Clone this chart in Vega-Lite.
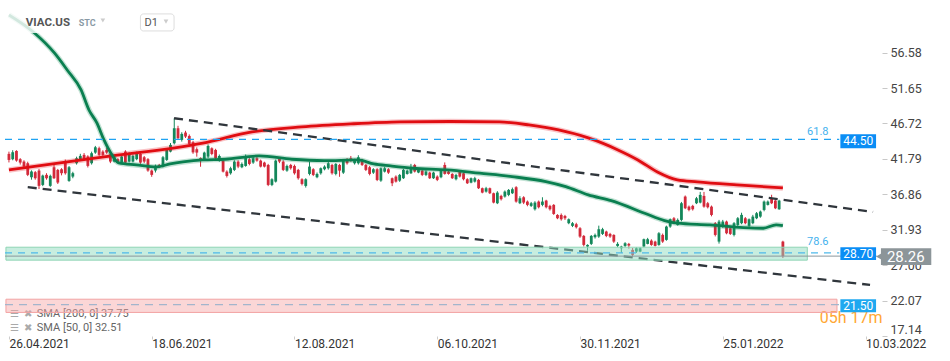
{
 "$schema": "https://vega.github.io/schema/vega-lite/v6.json",
 "width": 882,
 "height": 336,
 "autosize": {"type": "none"},
 "padding": {"left": 0, "top": 0, "right": 68, "bottom": 25},
 "background": "#ffffff",
 "config": {
  "view": {"stroke": null}, "font": "Roboto", "text": {"font": "Roboto"},
  "axisX": {"labelAlign": "left", "labelBaseline": "top", "labelFontSize": 12, "labelColor": "#333333", "labelFont": "Roboto", "tickSize": 3, "tickColor": "#cccccc", "domain": false, "grid": false, "labelPadding": -1, "labelOverlap": false, "labelFlush": false, "labelBound": false},
  "axisY": {"labelFontSize": 12.5, "labelColor": "#444444", "labelFont": "Roboto", "tickSize": 5, "tickColor": "#c8c8c8", "domain": false, "grid": false, "labelPadding": 3, "labelFlush": true, "labelOverlap": false}
 },
 "datasets": {
  "candles": [
   {"o":42.49,"h":42.8,"l":41.3,"c":41.65},{"o":41.75,"h":43.0,"l":41.6,"c":42.72},{"o":42.9,"h":43.0,"l":41.4,"c":41.56},{"o":41.75,"h":41.9,"l":41.0,"c":41.28},{"o":41.42,"h":41.6,"l":40.5,"c":40.72},
   {"o":41.19,"h":41.4,"l":39.4,"c":39.57},{"o":39.24,"h":40.2,"l":38.9,"c":40.03},{"o":39.94,"h":40.1,"l":38.9,"c":39.1},{"o":40.17,"h":40.4,"l":37.6,"c":38.04},{"o":38.17,"h":39.6,"l":38.0,"c":39.47},
   {"o":39.57,"h":39.8,"l":38.9,"c":39.1},{"o":38.04,"h":39.6,"l":37.9,"c":39.43},{"o":40.63,"h":41.0,"l":39.0,"c":39.1},{"o":40.26,"h":40.4,"l":38.3,"c":38.5},{"o":40.35,"h":40.5,"l":39.5,"c":39.8},
   {"o":41.51,"h":41.7,"l":39.6,"c":39.8},{"o":38.73,"h":40.8,"l":38.6,"c":40.63},{"o":39.33,"h":40.0,"l":39.1,"c":39.8},{"o":41.19,"h":42.1,"l":41.0,"c":41.88},{"o":41.75,"h":42.5,"l":41.6,"c":42.21},
   {"o":42.35,"h":42.6,"l":41.6,"c":41.75},{"o":42.12,"h":42.3,"l":40.6,"c":40.82},{"o":41.19,"h":42.8,"l":41.0,"c":42.58},{"o":42.67,"h":43.6,"l":42.5,"c":43.41},{"o":43.28,"h":43.5,"l":42.2,"c":42.35},
   {"o":42.81,"h":43.0,"l":42.2,"c":42.35},{"o":43.04,"h":43.3,"l":42.5,"c":42.67},{"o":42.44,"h":42.6,"l":41.2,"c":41.42},{"o":41.42,"h":42.3,"l":41.3,"c":42.12},{"o":41.75,"h":41.9,"l":41.2,"c":41.37},
   {"o":41.28,"h":42.3,"l":41.1,"c":42.12},{"o":42.81,"h":43.0,"l":41.1,"c":41.28},{"o":41.42,"h":42.7,"l":41.3,"c":42.58},{"o":41.42,"h":42.4,"l":41.3,"c":42.21},{"o":41.75,"h":42.8,"l":41.6,"c":42.58},
   {"o":42.49,"h":42.7,"l":41.1,"c":41.28},{"o":42.02,"h":42.2,"l":41.2,"c":41.42},{"o":41.75,"h":41.9,"l":40.0,"c":40.17},{"o":40.17,"h":40.3,"l":39.3,"c":39.57},{"o":40.17,"h":41.0,"l":39.9,"c":40.82},
   {"o":40.96,"h":41.1,"l":40.5,"c":40.63},{"o":40.72,"h":42.2,"l":40.6,"c":42.02},{"o":41.65,"h":43.2,"l":41.5,"c":43.04},{"o":42.81,"h":44.0,"l":42.7,"c":43.74},{"o":43.97,"h":47.45,"l":43.8,"c":46.06},
   {"o":46.06,"h":46.4,"l":44.5,"c":44.67},{"o":44.44,"h":45.5,"l":44.2,"c":45.27},{"o":45.46,"h":45.7,"l":44.7,"c":44.9},{"o":44.99,"h":45.2,"l":43.7,"c":43.88},{"o":44.1,"h":44.3,"l":42.5,"c":42.7},
   {"o":43.14,"h":43.4,"l":42.1,"c":42.67},{"o":41.9,"h":42.0,"l":40.7,"c":41.5},{"o":41.65,"h":42.8,"l":41.5,"c":42.67},{"o":42.11,"h":43.8,"l":41.9,"c":43.6},{"o":43.27,"h":43.4,"l":42.3,"c":42.48},
   {"o":43.04,"h":43.2,"l":41.7,"c":41.88},{"o":41.65,"h":42.4,"l":41.4,"c":42.2},{"o":41.55,"h":41.7,"l":39.9,"c":40.02},{"o":40.02,"h":40.2,"l":39.2,"c":39.42},{"o":39.79,"h":40.7,"l":39.6,"c":40.49},
   {"o":40.26,"h":41.6,"l":40.1,"c":41.42},{"o":41.42,"h":41.6,"l":40.5,"c":40.72},{"o":40.63,"h":41.3,"l":40.5,"c":41.09},{"o":40.81,"h":42.4,"l":40.7,"c":42.2},{"o":41.74,"h":41.9,"l":40.9,"c":41.09},
   {"o":41.28,"h":42.1,"l":41.1,"c":41.88},{"o":41.88,"h":42.1,"l":41.4,"c":41.55},{"o":41.55,"h":41.7,"l":40.6,"c":40.72},{"o":41.28,"h":41.4,"l":40.6,"c":40.72},{"o":40.95,"h":41.1,"l":38.0,"c":38.17},
   {"o":38.17,"h":39.1,"l":38.0,"c":38.96},{"o":38.63,"h":41.7,"l":38.5,"c":41.55},{"o":41.88,"h":42.0,"l":41.2,"c":41.42},{"o":41.42,"h":41.6,"l":40.1,"c":40.26},{"o":40.16,"h":41.0,"l":40.0,"c":40.81},
   {"o":40.95,"h":41.1,"l":40.3,"c":40.49},{"o":40.81,"h":41.0,"l":39.6,"c":39.79},{"o":40.26,"h":40.4,"l":38.9,"c":39.1},{"o":38.96,"h":39.1,"l":38.1,"c":38.31},{"o":38.03,"h":39.1,"l":37.8,"c":38.96},
   {"o":39.7,"h":41.4,"l":39.5,"c":40.72},{"o":40.35,"h":40.5,"l":39.4,"c":39.56},{"o":39.24,"h":39.9,"l":39.1,"c":39.7},{"o":39.79,"h":40.6,"l":39.6,"c":40.49},{"o":40.35,"h":40.9,"l":40.2,"c":40.72},
   {"o":40.49,"h":41.4,"l":40.3,"c":41.18},{"o":40.95,"h":41.1,"l":39.6,"c":39.79},{"o":39.7,"h":41.2,"l":39.5,"c":41.09},{"o":40.95,"h":41.1,"l":39.3,"c":40.16},{"o":39.88,"h":41.7,"l":39.7,"c":41.55},
   {"o":41.65,"h":41.9,"l":41.0,"c":41.18},{"o":41.88,"h":42.2,"l":41.4,"c":41.55},{"o":41.18,"h":41.8,"l":41.0,"c":41.55},{"o":41.18,"h":42.3,"l":41.0,"c":42.02},{"o":41.65,"h":41.8,"l":40.8,"c":40.95},
   {"o":40.95,"h":41.1,"l":40.1,"c":40.26},{"o":40.63,"h":40.8,"l":39.5,"c":39.7},{"o":39.88,"h":40.5,"l":39.7,"c":40.35},{"o":40.35,"h":40.5,"l":38.7,"c":38.86},{"o":38.77,"h":40.6,"l":38.6,"c":40.49},
   {"o":40.02,"h":40.7,"l":39.9,"c":40.49},{"o":40.35,"h":40.5,"l":39.7,"c":39.88},{"o":39.1,"h":39.2,"l":38.0,"c":38.4},{"o":39.33,"h":39.5,"l":38.5,"c":38.63},{"o":38.77,"h":39.7,"l":38.6,"c":39.56},
   {"o":39.1,"h":40.4,"l":39.0,"c":40.26},{"o":39.7,"h":40.3,"l":39.6,"c":40.16},{"o":39.79,"h":41.1,"l":39.7,"c":40.63},{"o":40.95,"h":41.1,"l":39.9,"c":40.03},{"o":39.89,"h":40.4,"l":39.8,"c":40.26},
   {"o":40.16,"h":40.3,"l":39.4,"c":39.56},{"o":39.56,"h":40.2,"l":39.4,"c":40.03},{"o":39.89,"h":40.0,"l":39.0,"c":39.1},{"o":39.1,"h":40.0,"l":39.0,"c":39.89},{"o":39.33,"h":39.5,"l":38.7,"c":38.87},
   {"o":39.24,"h":40.3,"l":39.1,"c":40.16},{"o":40.95,"h":41.3,"l":39.6,"c":39.7},{"o":40.03,"h":40.2,"l":39.6,"c":39.7},{"o":39.7,"h":39.8,"l":39.0,"c":39.1},{"o":38.96,"h":39.7,"l":38.8,"c":39.56},
   {"o":40.03,"h":40.2,"l":39.2,"c":39.33},{"o":39.79,"h":39.9,"l":38.8,"c":38.96},{"o":38.96,"h":39.1,"l":38.3,"c":38.4},{"o":38.49,"h":39.2,"l":38.4,"c":39.1},{"o":38.63,"h":39.3,"l":38.5,"c":39.1},
   {"o":38.87,"h":39.0,"l":37.6,"c":37.71},{"o":37.71,"h":37.8,"l":37.0,"c":37.1},{"o":37.24,"h":37.9,"l":37.1,"c":37.71},{"o":37.71,"h":37.8,"l":36.9,"c":37.01},{"o":37.01,"h":37.1,"l":35.6,"c":35.71},
   {"o":35.62,"h":37.3,"l":35.5,"c":37.1},{"o":36.64,"h":36.8,"l":36.0,"c":36.18},{"o":36.55,"h":37.4,"l":36.4,"c":37.24},{"o":36.78,"h":37.6,"l":36.6,"c":37.47},{"o":37.01,"h":37.8,"l":36.9,"c":37.57},
   {"o":37.85,"h":38.0,"l":35.7,"c":35.85},{"o":35.62,"h":36.6,"l":35.5,"c":36.31},{"o":36.45,"h":36.6,"l":35.5,"c":35.71},{"o":35.85,"h":36.0,"l":35.2,"c":35.39},{"o":35.25,"h":35.8,"l":35.1,"c":35.62},
   {"o":34.78,"h":35.9,"l":34.6,"c":35.71},{"o":35.85,"h":36.0,"l":34.9,"c":35.06},{"o":35.39,"h":36.45,"l":35.2,"c":35.85},{"o":35.99,"h":36.1,"l":34.9,"c":35.06},{"o":35.25,"h":35.4,"l":34.6,"c":34.78},
   {"o":35.39,"h":35.5,"l":34.0,"c":34.13},{"o":33.99,"h":34.1,"l":33.4,"c":33.53},{"o":33.99,"h":34.2,"l":33.2,"c":33.39},{"o":33.85,"h":34.0,"l":33.3,"c":33.53},{"o":32.84,"h":33.5,"l":32.7,"c":33.39},
   {"o":32.47,"h":33.0,"l":32.3,"c":32.84},{"o":32.7,"h":32.9,"l":32.1,"c":32.28},{"o":32.14,"h":32.3,"l":30.8,"c":30.98},{"o":31.07,"h":31.2,"l":29.6,"c":29.82},{"o":29.59,"h":29.9,"l":29.0,"c":29.82},
   {"o":29.96,"h":31.2,"l":29.8,"c":31.07},{"o":30.89,"h":31.4,"l":30.7,"c":31.21},{"o":30.98,"h":32.5,"l":30.8,"c":32.0},{"o":31.35,"h":32.2,"l":31.2,"c":32.0},{"o":31.68,"h":31.8,"l":30.9,"c":31.07},
   {"o":31.35,"h":31.5,"l":30.8,"c":30.98},{"o":31.21,"h":31.3,"l":30.1,"c":30.28},{"o":29.68,"h":30.2,"l":29.5,"c":29.96},{"o":29.35,"h":29.7,"l":28.7,"c":29.59},{"o":29.68,"h":30.2,"l":29.5,"c":30.05},
   {"o":29.96,"h":30.1,"l":29.3,"c":29.73},{"o":29.12,"h":29.4,"l":28.2,"c":28.43},{"o":28.89,"h":29.5,"l":28.7,"c":29.35},{"o":28.89,"h":29.5,"l":28.8,"c":29.35},{"o":29.59,"h":30.7,"l":29.5,"c":30.61},
   {"o":29.96,"h":30.8,"l":29.9,"c":30.61},{"o":30.42,"h":30.6,"l":29.7,"c":29.82},{"o":30.28,"h":30.4,"l":29.6,"c":29.68},{"o":29.82,"h":31.6,"l":29.7,"c":31.44},{"o":31.21,"h":31.4,"l":30.1,"c":30.28},
   {"o":30.52,"h":32.5,"l":30.4,"c":32.37},{"o":32.37,"h":33.5,"l":32.2,"c":33.39},{"o":33.53,"h":33.7,"l":32.7,"c":32.84},{"o":32.6,"h":33.5,"l":32.5,"c":33.3},{"o":33.3,"h":35.8,"l":33.1,"c":35.62},
   {"o":36.55,"h":36.7,"l":34.8,"c":34.92},{"o":35.15,"h":35.3,"l":34.5,"c":34.69},{"o":35.25,"h":35.4,"l":34.6,"c":34.78},{"o":35.62,"h":36.5,"l":35.5,"c":36.31},{"o":35.71,"h":37.2,"l":35.6,"c":36.78},
   {"o":36.64,"h":37.2,"l":35.0,"c":35.15},{"o":35.62,"h":35.8,"l":34.9,"c":35.06},{"o":35.15,"h":35.3,"l":33.8,"c":33.99},{"o":32.84,"h":33.0,"l":31.0,"c":31.21},{"o":30.28,"h":33.3,"l":30.0,"c":33.07},
   {"o":32.37,"h":33.3,"l":32.2,"c":33.07},{"o":33.07,"h":33.2,"l":31.3,"c":31.44},{"o":32.14,"h":32.3,"l":31.2,"c":31.35},{"o":31.21,"h":33.0,"l":31.0,"c":32.84},{"o":32.6,"h":33.7,"l":32.4,"c":33.53},
   {"o":32.84,"h":34.3,"l":32.7,"c":34.0},{"o":33.53,"h":33.7,"l":32.7,"c":32.84},{"o":32.47,"h":33.5,"l":32.3,"c":33.39},{"o":32.84,"h":34.0,"l":32.7,"c":33.76},{"o":33.53,"h":34.4,"l":33.4,"c":34.23},
   {"o":33.76,"h":34.6,"l":33.6,"c":34.46},{"o":34.69,"h":36.0,"l":34.5,"c":35.85},{"o":35.39,"h":36.0,"l":35.3,"c":35.85},{"o":36.31,"h":36.8,"l":35.5,"c":35.62},{"o":35.99,"h":36.2,"l":34.8,"c":34.92},
   {"o":34.78,"h":36.1,"l":34.7,"c":35.99},{"o":30.28,"h":30.4,"l":27.99,"c":28.26}
  ],
  "sma200": [
   {"t":1,"v":40.26},{"t":26.3,"v":42.07},{"t":52.6,"v":44.0},{"t":65.7,"v":45.54},{"t":78.9,"v":46.24},{"t":92,"v":46.66},{"t":105.2,"v":46.94},{"t":118.4,"v":47.0},{"t":131.5,"v":46.94},{"t":139.4,"v":46.52},{"t":147.3,"v":45.82},{"t":155.2,"v":44.71},{"t":163.1,"v":43.04},{"t":168.4,"v":41.65},{"t":173.6,"v":39.98},{"t":178.9,"v":38.87},{"t":184.2,"v":38.59},{"t":194.7,"v":38.17},{"t":207,"v":37.75}
  ],
  "sma50": [
   {"t":1,"v":61.83},{"t":7.8,"v":59.32},{"t":13.1,"v":56.54},{"t":16.5,"v":54.17},{"t":20.2,"v":51.39},{"t":22.3,"v":48.6},{"t":24.4,"v":46.8},{"t":26.3,"v":44.43},{"t":28.1,"v":42.62},{"t":30.2,"v":41.23},{"t":34.9,"v":40.95},{"t":40.2,"v":40.67},{"t":43.9,"v":41.09},{"t":47.3,"v":41.37},{"t":52.6,"v":41.65},{"t":58.6,"v":41.74},{"t":67.6,"v":42.2},{"t":76.3,"v":41.74},{"t":84.9,"v":41.55},{"t":93.9,"v":41.65},{"t":98.1,"v":41.09},{"t":102.6,"v":40.81},{"t":108.6,"v":40.49},{"t":117.6,"v":40.26},{"t":126.3,"v":39.8},{"t":134.9,"v":39.33},{"t":143.9,"v":38.63},{"t":149.2,"v":37.93},{"t":155.2,"v":36.78},{"t":161.3,"v":35.98},{"t":170.2,"v":34.23},{"t":175.5,"v":33.2},{"t":178.9,"v":32.84},{"t":187.6,"v":32.6},{"t":196.5,"v":32.23},{"t":201.8,"v":32.14},{"t":205.2,"v":32.62},{"t":207,"v":32.51}
  ],
  "trend": [
   {"line":"upper","t":44.95,"p":47.45},{"line":"upper","t":231,"p":34.41},
   {"line":"lower","t":6,"p":37.85},{"line":"lower","t":230.2,"p":24.25}
  ]
 },
 "layer": [
  {
   "data": {"name": "candles"},
   "transform": [{"window": [{"op": "row_number", "as": "t"}]}],
   "layer": [
    {
     "mark": {"type": "rule", "strokeWidth": 1},
     "encoding": {
      "x": {"field": "t", "type": "quantitative", "title": null, "scale": {"domain": [-0.05, 232.05], "nice": false, "zero": false},
        "axis": {"title": null, "orient": "bottom", "values": [1, 39, 77, 115, 153, 191, 229], "labelExpr": "datum.value == 1 ? '26.04.2021' : datum.value == 39 ? '18.06.2021' : datum.value == 77 ? '12.08.2021' : datum.value == 115 ? '06.10.2021' : datum.value == 153 ? '30.11.2021' : datum.value == 191 ? '25.01.2022' : '10.03.2022'"}},
      "y": {"field": "l", "type": "quantitative", "title": null, "scale": {"domain": [17.14, 63.91], "nice": false, "zero": false},
        "axis": {"title": null, "orient": "right", "values": [17.14, 22.07, 27.0, 31.93, 36.86, 41.79, 46.72, 51.65, 56.58], "format": ".2f"}},
      "y2": {"field": "h"},
      "color": {"condition": {"test": "datum.c >= datum.o", "value": "#13875a"}, "value": "#d3293a"}
     }
    },
    {
     "mark": {"type": "bar", "width": 2.8},
     "encoding": {
      "x": {"field": "t", "type": "quantitative", "title": null, "scale": {"domain": [-0.05, 232.05], "nice": false, "zero": false}},
      "y": {"field": "o", "type": "quantitative", "title": null, "scale": {"domain": [17.14, 63.91], "nice": false, "zero": false}},
      "y2": {"field": "c"},
      "color": {"condition": {"test": "datum.c >= datum.o", "value": "#13875a"}, "value": "#d3293a"}
     }
    }
   ]
  },
  {
   "data": {"name": "sma200"},
   "layer": [
    {"mark": {"type": "line", "stroke": "#e8101a", "strokeWidth": 5.5, "opacity": 0.25, "interpolate": "monotone"},
     "encoding": {"x": {"field": "t", "type": "quantitative", "title": null, "scale": {"domain": [-0.05, 232.05], "nice": false, "zero": false}},
      "y": {"field": "v", "type": "quantitative", "title": null, "scale": {"domain": [17.14, 63.91], "nice": false, "zero": false}}}},
    {"mark": {"type": "line", "stroke": "#e00d12", "strokeWidth": 2.8, "interpolate": "monotone"},
     "encoding": {"x": {"field": "t", "type": "quantitative", "title": null, "scale": {"domain": [-0.05, 232.05], "nice": false, "zero": false}},
      "y": {"field": "v", "type": "quantitative", "title": null, "scale": {"domain": [17.14, 63.91], "nice": false, "zero": false}}}}
   ]
  },
  {
   "data": {"name": "sma50"},
   "layer": [
    {"mark": {"type": "line", "stroke": "#0b8a55", "strokeWidth": 5.5, "opacity": 0.25, "interpolate": "monotone"},
     "encoding": {"x": {"field": "t", "type": "quantitative", "title": null, "scale": {"domain": [-0.05, 232.05], "nice": false, "zero": false}},
      "y": {"field": "v", "type": "quantitative", "title": null, "scale": {"domain": [17.14, 63.91], "nice": false, "zero": false}}}},
    {"mark": {"type": "line", "stroke": "#0a7f50", "strokeWidth": 2.8, "interpolate": "monotone"},
     "encoding": {"x": {"field": "t", "type": "quantitative", "title": null, "scale": {"domain": [-0.05, 232.05], "nice": false, "zero": false}},
      "y": {"field": "v", "type": "quantitative", "title": null, "scale": {"domain": [17.14, 63.91], "nice": false, "zero": false}}}}
   ]
  },
  {
   "data": {"name": "trend"},
   "mark": {"type": "line", "stroke": "#30363c", "strokeWidth": 2.3, "strokeDash": [9, 6]},
   "encoding": {"x": {"field": "t", "type": "quantitative", "title": null, "scale": {"domain": [-0.05, 232.05], "nice": false, "zero": false}},
    "y": {"field": "p", "type": "quantitative", "title": null, "scale": {"domain": [17.14, 63.91], "nice": false, "zero": false}},
    "detail": {"field": "line", "type": "nominal"}}
  },
  {
   "data": {"values": [{"txt": "SMA [200,  0] 37.75", "p": 20.22, "t": 8.4}, {"txt": "SMA [50,  0] 32.51", "p": 18.27, "t": 8.4}]},
   "mark": {"type": "text", "align": "left", "baseline": "middle", "fontSize": 11, "color": "#666666", "font": "Roboto"},
   "encoding": {"x": {"field": "t", "type": "quantitative", "title": null, "scale": {"domain": [-0.05, 232.05], "nice": false, "zero": false}},
    "y": {"field": "p", "type": "quantitative", "title": null, "scale": {"domain": [17.14, 63.91], "nice": false, "zero": false}},
    "text": {"field": "txt", "type": "nominal"}}
  },
  {
   "data": {"values": [{"txt": "☰", "p": 20.22, "t": 2.6}, {"txt": "☰", "p": 18.27, "t": 2.6}, {"txt": "✖", "p": 20.22, "t": 6.2}, {"txt": "✖", "p": 18.27, "t": 6.2}]},
   "mark": {"type": "text", "align": "center", "baseline": "middle", "fontSize": 10, "color": "#aaaaaa"},
   "encoding": {"x": {"field": "t", "type": "quantitative", "title": null, "scale": {"domain": [-0.05, 232.05], "nice": false, "zero": false}},
    "y": {"field": "p", "type": "quantitative", "title": null, "scale": {"domain": [17.14, 63.91], "nice": false, "zero": false}},
    "text": {"field": "txt", "type": "nominal"}}
  },
  {
   "data": {"values": [{"txt": "05h 17m", "t": 216.8, "p": 19.6}]},
   "mark": {"type": "text", "align": "left", "baseline": "middle", "fontSize": 16, "color": "#ffa733", "font": "Roboto"},
   "encoding": {"x": {"field": "t", "type": "quantitative", "title": null, "scale": {"domain": [-0.05, 232.05], "nice": false, "zero": false}},
    "y": {"field": "p", "type": "quantitative", "title": null, "scale": {"domain": [17.14, 63.91], "nice": false, "zero": false}},
    "text": {"field": "txt", "type": "nominal"}}
  },
  {
   "data": {"values": [{"p1": 29.5, "p2": 27.7, "t1": 0.2, "t2": 213.5}]},
   "mark": {"type": "rect", "fill": "#8fdcbf", "fillOpacity": 0.5, "stroke": "#8ed5b5", "strokeWidth": 1},
   "encoding": {"x": {"field": "t1", "type": "quantitative", "title": null, "scale": {"domain": [-0.05, 232.05], "nice": false, "zero": false}},
    "x2": {"field": "t2"},
    "y": {"field": "p1", "type": "quantitative", "title": null, "scale": {"domain": [17.14, 63.91], "nice": false, "zero": false}},
    "y2": {"field": "p2"}}
  },
  {
   "data": {"values": [{"p1": 22.26, "p2": 20.42, "t1": 0.2, "t2": 221.4}]},
   "mark": {"type": "rect", "fill": "#f7a3a3", "fillOpacity": 0.45, "stroke": "#f2a3a3", "strokeWidth": 1},
   "encoding": {"x": {"field": "t1", "type": "quantitative", "title": null, "scale": {"domain": [-0.05, 232.05], "nice": false, "zero": false}},
    "x2": {"field": "t2"},
    "y": {"field": "p1", "type": "quantitative", "title": null, "scale": {"domain": [17.14, 63.91], "nice": false, "zero": false}},
    "y2": {"field": "p2"}}
  },
  {
   "data": {"values": [{"p": 28.26, "t1": -0.05, "t2": 232.0}]},
   "mark": {"type": "rule", "stroke": "#8c979c", "strokeWidth": 1},
   "encoding": {"x": {"field": "t1", "type": "quantitative", "title": null, "scale": {"domain": [-0.05, 232.05], "nice": false, "zero": false}},
    "x2": {"field": "t2"},
    "y": {"field": "p", "type": "quantitative", "title": null, "scale": {"domain": [17.14, 63.91], "nice": false, "zero": false}}}
  },
  {
   "data": {"values": [{"p": 44.5, "t1": -0.05, "t2": 222.0}]},
   "mark": {"type": "rule", "stroke": "#1fa3f2", "strokeWidth": 1.3, "strokeDash": [7, 6]},
   "encoding": {"x": {"field": "t1", "type": "quantitative", "title": null, "scale": {"domain": [-0.05, 232.05], "nice": false, "zero": false}},
    "x2": {"field": "t2"},
    "y": {"field": "p", "type": "quantitative", "title": null, "scale": {"domain": [17.14, 63.91], "nice": false, "zero": false}}}
  },
  {
   "data": {"values": [{"p": 28.7, "t1": -0.05, "t2": 222.0}]},
   "mark": {"type": "rule", "stroke": "#4fb9ea", "strokeWidth": 1.2, "strokeDash": [7, 6]},
   "encoding": {"x": {"field": "t1", "type": "quantitative", "title": null, "scale": {"domain": [-0.05, 232.05], "nice": false, "zero": false}},
    "x2": {"field": "t2"},
    "y": {"field": "p", "type": "quantitative", "title": null, "scale": {"domain": [17.14, 63.91], "nice": false, "zero": false}}}
  },
  {
   "data": {"values": [{"p": 21.5, "t1": -0.05, "t2": 222.0}]},
   "mark": {"type": "rule", "stroke": "#a3b5cc", "strokeWidth": 1.2, "strokeDash": [8, 6]},
   "encoding": {"x": {"field": "t1", "type": "quantitative", "title": null, "scale": {"domain": [-0.05, 232.05], "nice": false, "zero": false}},
    "x2": {"field": "t2"},
    "y": {"field": "p", "type": "quantitative", "title": null, "scale": {"domain": [17.14, 63.91], "nice": false, "zero": false}}}
  },
  {
   "data": {"values": [{"txt": "61.8", "p": 45.55, "t": 216.3}, {"txt": "78.6", "p": 30.2, "t": 216.3}]},
   "mark": {"type": "text", "align": "center", "baseline": "middle", "fontSize": 11, "color": "#45b2ee", "font": "Roboto"},
   "encoding": {"x": {"field": "t", "type": "quantitative", "title": null, "scale": {"domain": [-0.05, 232.05], "nice": false, "zero": false}},
    "y": {"field": "p", "type": "quantitative", "title": null, "scale": {"domain": [17.14, 63.91], "nice": false, "zero": false}},
    "text": {"field": "txt", "type": "nominal"}}
  },
  {
   "data": {"values": [{"lv": "44.50", "pv": 44.5, "p1": 45.22, "p2": 43.27, "col": "a", "t1": 222.3, "t2": 231.8, "tm": 227.05}, {"lv": "28.70", "pv": 28.7, "p1": 29.5, "p2": 27.73, "col": "a", "t1": 222.3, "t2": 231.8, "tm": 227.05}, {"lv": "21.50", "pv": 21.5, "p1": 22.26, "p2": 20.45, "col": "b", "t1": 222.3, "t2": 231.8, "tm": 227.05}]},
   "layer": [
    {"mark": {"type": "rect"},
     "encoding": {"x": {"field": "t1", "type": "quantitative", "title": null, "scale": {"domain": [-0.05, 232.05], "nice": false, "zero": false}},
      "x2": {"field": "t2"},
      "y": {"field": "p1", "type": "quantitative", "title": null, "scale": {"domain": [17.14, 63.91], "nice": false, "zero": false}},
      "y2": {"field": "p2"},
      "fill": {"condition": {"test": "datum.col == 'a'", "value": "#0a8df5"}, "value": "#1fa8f0"}}},
    {"mark": {"type": "text", "align": "center", "baseline": "middle", "fontSize": 12, "color": "#ffffff", "font": "Roboto", "dy": 1.5},
     "encoding": {"x": {"field": "tm", "type": "quantitative", "title": null, "scale": {"domain": [-0.05, 232.05], "nice": false, "zero": false}},
      "y": {"field": "pv", "type": "quantitative", "title": null, "scale": {"domain": [17.14, 63.91], "nice": false, "zero": false}},
      "text": {"field": "lv", "type": "nominal"}}}
   ]
  },
  {
   "data": {"values": [{"lv": "28.26", "pv": 28.2, "p1": 29.36, "p2": 27.03, "t1": 233.1, "t2": 246.5, "ta": 233.0, "tm": 239.7}]},
   "layer": [
    {"mark": {"type": "rect", "fill": "#8c9599"},
     "encoding": {"x": {"field": "t1", "type": "quantitative", "title": null, "scale": {"domain": [-0.05, 232.05], "nice": false, "zero": false}},
      "x2": {"field": "t2"},
      "y": {"field": "p1", "type": "quantitative", "title": null, "scale": {"domain": [17.14, 63.91], "nice": false, "zero": false}},
      "y2": {"field": "p2"}}},
    {"mark": {"type": "point", "shape": "triangle-left", "filled": true, "size": 110, "color": "#8c9599", "opacity": 1},
     "encoding": {"x": {"field": "ta", "type": "quantitative", "title": null, "scale": {"domain": [-0.05, 232.05], "nice": false, "zero": false}},
      "y": {"field": "pv", "type": "quantitative", "title": null, "scale": {"domain": [17.14, 63.91], "nice": false, "zero": false}}}},
    {"mark": {"type": "text", "align": "center", "baseline": "middle", "fontSize": 15, "color": "#ffffff", "font": "Roboto"},
     "encoding": {"x": {"field": "tm", "type": "quantitative", "title": null, "scale": {"domain": [-0.05, 232.05], "nice": false, "zero": false}},
      "y": {"field": "pv", "type": "quantitative", "title": null, "scale": {"domain": [17.14, 63.91], "nice": false, "zero": false}},
      "text": {"field": "lv", "type": "nominal"}}}
   ]
  },
  {
   "data": {"values": [{"t1": -0.05, "t2": 31, "p1": 62.6, "p2": 59.32}]},
   "mark": {"type": "rect", "fill": "#ffffff", "opacity": 0.82},
   "encoding": {"x": {"field": "t1", "type": "quantitative", "title": null, "scale": {"domain": [-0.05, 232.05], "nice": false, "zero": false}},
    "x2": {"field": "t2"},
    "y": {"field": "p1", "type": "quantitative", "title": null, "scale": {"domain": [17.14, 63.91], "nice": false, "zero": false}},
    "y2": {"field": "p2"}}
  },
  {
   "data": {"values": [{"t1": 36.0, "t2": 44.95, "p1": 61.97, "p2": 59.6}]},
   "mark": {"type": "rect", "fill": "#ffffff", "stroke": "#dddddd", "strokeWidth": 1, "cornerRadius": 3},
   "encoding": {"x": {"field": "t1", "type": "quantitative", "title": null, "scale": {"domain": [-0.05, 232.05], "nice": false, "zero": false}},
    "x2": {"field": "t2"},
    "y": {"field": "p1", "type": "quantitative", "title": null, "scale": {"domain": [17.14, 63.91], "nice": false, "zero": false}},
    "y2": {"field": "p2"}}
  },
  {
   "data": {"values": [{"t": 42.8, "p": 60.9}, {"t": 26.0, "p": 61.05}]},
   "mark": {"type": "point", "shape": "triangle-down", "filled": true, "size": 22, "color": "#cccccc", "opacity": 1},
   "encoding": {"x": {"field": "t", "type": "quantitative", "title": null, "scale": {"domain": [-0.05, 232.05], "nice": false, "zero": false}},
    "y": {"field": "p", "type": "quantitative", "title": null, "scale": {"domain": [17.14, 63.91], "nice": false, "zero": false}}}
  },
  {
   "data": {"values": [{"txt": "D1", "t": 37.1, "p": 60.75}]},
   "mark": {"type": "text", "align": "left", "baseline": "middle", "fontSize": 11, "color": "#555555", "font": "Roboto"},
   "encoding": {"x": {"field": "t", "type": "quantitative", "title": null, "scale": {"domain": [-0.05, 232.05], "nice": false, "zero": false}},
    "y": {"field": "p", "type": "quantitative", "title": null, "scale": {"domain": [17.14, 63.91], "nice": false, "zero": false}},
    "text": {"field": "txt", "type": "nominal"}}
  },
  {
   "data": {"values": [{"txt": "VIAC.US", "t": 5.5, "p": 60.71}]},
   "mark": {"type": "text", "align": "left", "baseline": "middle", "fontSize": 11.5, "fontWeight": "bold", "color": "#555555", "font": "Roboto"},
   "encoding": {"x": {"field": "t", "type": "quantitative", "title": null, "scale": {"domain": [-0.05, 232.05], "nice": false, "zero": false}},
    "y": {"field": "p", "type": "quantitative", "title": null, "scale": {"domain": [17.14, 63.91], "nice": false, "zero": false}},
    "text": {"field": "txt", "type": "nominal"}}
  },
  {
   "data": {"values": [{"txt": "STC", "t": 19.6, "p": 60.71}]},
   "mark": {"type": "text", "align": "left", "baseline": "middle", "fontSize": 9, "fontWeight": "bold", "color": "#8a9aa5", "font": "Roboto"},
   "encoding": {"x": {"field": "t", "type": "quantitative", "title": null, "scale": {"domain": [-0.05, 232.05], "nice": false, "zero": false}},
    "y": {"field": "p", "type": "quantitative", "title": null, "scale": {"domain": [17.14, 63.91], "nice": false, "zero": false}},
    "text": {"field": "txt", "type": "nominal"}}
  }
 ]
}
